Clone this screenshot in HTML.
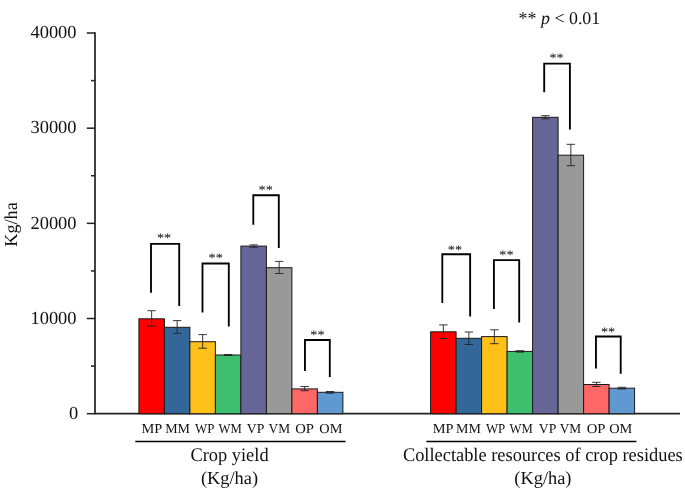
<!DOCTYPE html>
<html><head><meta charset="utf-8"><title>Chart</title>
<style>
html,body{margin:0;padding:0;background:#fff;}
body{width:685px;height:494px;overflow:hidden;font-family:"Liberation Serif",serif;}
svg{display:block;font-family:"Liberation Serif",serif;}
text{fill:#111;text-rendering:geometricPrecision;}
</style></head><body>
<svg style="will-change:transform" width="685" height="494" viewBox="0 0 685 494">
<rect width="685" height="494" fill="#fff"/>
<path d="M95 32.2V413.7H680" stroke="#222" stroke-width="1.7" fill="none"/>
<path d="M86.8 413.70H95" stroke="#222" stroke-width="1.5"/>
<path d="M91 366.11H95" stroke="#222" stroke-width="1.5"/>
<text x="78.1" y="419.35" text-anchor="end" font-size="18.4">0</text>
<path d="M86.8 318.52H95" stroke="#222" stroke-width="1.5"/>
<path d="M91 270.94H95" stroke="#222" stroke-width="1.5"/>
<text x="76.5" y="323.82" text-anchor="end" font-size="18.4">10000</text>
<path d="M86.8 223.35H95" stroke="#222" stroke-width="1.5"/>
<path d="M91 175.76H95" stroke="#222" stroke-width="1.5"/>
<text x="76.5" y="228.65" text-anchor="end" font-size="18.4">20000</text>
<path d="M86.8 128.18H95" stroke="#222" stroke-width="1.5"/>
<path d="M91 80.59H95" stroke="#222" stroke-width="1.5"/>
<text x="76.5" y="133.48" text-anchor="end" font-size="18.4">30000</text>
<path d="M86.8 33.00H95" stroke="#222" stroke-width="1.5"/>
<text x="76.5" y="38.30" text-anchor="end" font-size="18.4">40000</text>
<rect x="138.90" y="318.80" width="25.5" height="94.90" fill="#FF0000" stroke="#1a1a1a" stroke-width="1"/>
<rect x="164.40" y="327.30" width="25.5" height="86.40" fill="#336699" stroke="#1a1a1a" stroke-width="1"/>
<rect x="189.90" y="341.70" width="25.5" height="72.00" fill="#FFC01A" stroke="#1a1a1a" stroke-width="1"/>
<rect x="215.40" y="355.00" width="25.5" height="58.70" fill="#3DBF6E" stroke="#1a1a1a" stroke-width="1"/>
<rect x="240.90" y="246.10" width="25.5" height="167.60" fill="#666699" stroke="#1a1a1a" stroke-width="1"/>
<rect x="266.40" y="267.70" width="25.5" height="146.00" fill="#999999" stroke="#1a1a1a" stroke-width="1"/>
<rect x="291.90" y="388.90" width="25.5" height="24.80" fill="#FF6666" stroke="#1a1a1a" stroke-width="1"/>
<rect x="317.40" y="392.30" width="25.5" height="21.40" fill="#6099D1" stroke="#1a1a1a" stroke-width="1"/>
<path d="M151.65 310.70V326.10M147.45 310.70H155.85M147.45 326.10H155.85" stroke="#222" stroke-width="0.9" fill="none"/>
<path d="M177.15 320.60V333.40M172.95 320.60H181.35M172.95 333.40H181.35" stroke="#222" stroke-width="0.9" fill="none"/>
<path d="M202.65 334.60V348.20M198.45 334.60H206.85M198.45 348.20H206.85" stroke="#222" stroke-width="0.9" fill="none"/>
<path d="M228.15 354.50V355.50M223.95 354.50H232.35M223.95 355.50H232.35" stroke="#222" stroke-width="0.9" fill="none"/>
<path d="M253.65 244.90V247.20M249.45 244.90H257.85M249.45 247.20H257.85" stroke="#222" stroke-width="0.9" fill="none"/>
<path d="M279.15 261.40V273.50M274.95 261.40H283.35M274.95 273.50H283.35" stroke="#222" stroke-width="0.9" fill="none"/>
<path d="M304.65 386.50V390.70M300.45 386.50H308.85M300.45 390.70H308.85" stroke="#222" stroke-width="0.9" fill="none"/>
<path d="M330.15 391.50V393.20M325.95 391.50H334.35M325.95 393.20H334.35" stroke="#222" stroke-width="0.9" fill="none"/>
<rect x="430.60" y="331.80" width="25.5" height="81.90" fill="#FF0000" stroke="#1a1a1a" stroke-width="1"/>
<rect x="456.10" y="338.30" width="25.5" height="75.40" fill="#336699" stroke="#1a1a1a" stroke-width="1"/>
<rect x="481.60" y="336.60" width="25.5" height="77.10" fill="#FFC01A" stroke="#1a1a1a" stroke-width="1"/>
<rect x="507.10" y="351.40" width="25.5" height="62.30" fill="#3DBF6E" stroke="#1a1a1a" stroke-width="1"/>
<rect x="532.60" y="117.30" width="25.5" height="296.40" fill="#666699" stroke="#1a1a1a" stroke-width="1"/>
<rect x="558.10" y="155.20" width="25.5" height="258.50" fill="#999999" stroke="#1a1a1a" stroke-width="1"/>
<rect x="583.60" y="384.50" width="25.5" height="29.20" fill="#FF6666" stroke="#1a1a1a" stroke-width="1"/>
<rect x="609.10" y="388.20" width="25.5" height="25.50" fill="#6099D1" stroke="#1a1a1a" stroke-width="1"/>
<path d="M443.35 324.90V338.50M439.15 324.90H447.55M439.15 338.50H447.55" stroke="#222" stroke-width="0.9" fill="none"/>
<path d="M468.85 332.00V344.50M464.65 332.00H473.05M464.65 344.50H473.05" stroke="#222" stroke-width="0.9" fill="none"/>
<path d="M494.35 329.80V343.70M490.15 329.80H498.55M490.15 343.70H498.55" stroke="#222" stroke-width="0.9" fill="none"/>
<path d="M519.85 350.70V352.10M515.65 350.70H524.05M515.65 352.10H524.05" stroke="#222" stroke-width="0.9" fill="none"/>
<path d="M545.35 115.70V118.90M541.15 115.70H549.55M541.15 118.90H549.55" stroke="#222" stroke-width="0.9" fill="none"/>
<path d="M570.85 144.30V165.70M566.65 144.30H575.05M566.65 165.70H575.05" stroke="#222" stroke-width="0.9" fill="none"/>
<path d="M596.35 382.30V386.50M592.15 382.30H600.55M592.15 386.50H600.55" stroke="#222" stroke-width="0.9" fill="none"/>
<path d="M621.85 387.30V389.00M617.65 387.30H626.05M617.65 389.00H626.05" stroke="#222" stroke-width="0.9" fill="none"/>
<path transform="translate(0,0.45)" d="M151 292.3V243.35H179.2V305.6" stroke="#000" stroke-width="1.85" fill="none" stroke-linejoin="miter"/>
<path transform="translate(0,0.45)" d="M202.5 312V263.05H228.8V326" stroke="#000" stroke-width="1.85" fill="none" stroke-linejoin="miter"/>
<path transform="translate(0,0.45)" d="M253.3 224.3V194.75H278.8V247.5" stroke="#000" stroke-width="1.85" fill="none" stroke-linejoin="miter"/>
<path transform="translate(0,0.45)" d="M304.95 370.5V339.55H329.8V376.6" stroke="#000" stroke-width="1.85" fill="none" stroke-linejoin="miter"/>
<path transform="translate(0,0.45)" d="M442.3 302.5V253.75H470.15V316" stroke="#000" stroke-width="1.85" fill="none" stroke-linejoin="miter"/>
<path transform="translate(0,0.45)" d="M493.9 308.5V259.65H519.2V322.1" stroke="#000" stroke-width="1.85" fill="none" stroke-linejoin="miter"/>
<path transform="translate(0,0.45)" d="M544.2 91.7V63.15H569.9V129" stroke="#000" stroke-width="1.85" fill="none" stroke-linejoin="miter"/>
<path transform="translate(0,0.45)" d="M595.95 368.1V336.05H620.7V373.4" stroke="#000" stroke-width="1.85" fill="none" stroke-linejoin="miter"/>
<text transform="translate(164.1,242.10) scale(1.1,1)" text-anchor="middle" font-size="13" fill="#333">**</text>
<text transform="translate(215.7,261.70) scale(1.1,1)" text-anchor="middle" font-size="13" fill="#333">**</text>
<text transform="translate(265.7,194.30) scale(1.1,1)" text-anchor="middle" font-size="13" fill="#333">**</text>
<text transform="translate(317.5,338.70) scale(1.1,1)" text-anchor="middle" font-size="13" fill="#333">**</text>
<text transform="translate(455.0,253.50) scale(1.1,1)" text-anchor="middle" font-size="13" fill="#333">**</text>
<text transform="translate(506.4,259.20) scale(1.1,1)" text-anchor="middle" font-size="13" fill="#333">**</text>
<text transform="translate(556.6,61.60) scale(1.1,1)" text-anchor="middle" font-size="13" fill="#333">**</text>
<text transform="translate(608.1,335.50) scale(1.1,1)" text-anchor="middle" font-size="13" fill="#333">**</text>
<text transform="translate(141.58,432.8) scale(1.05,1)" font-size="13.7" fill="#111">MP</text>
<text transform="translate(165.19,432.8) scale(1.02,1)" font-size="13.7" fill="#111">MM</text>
<text transform="translate(195.00,432.8) scale(0.945,1)" font-size="13.7" fill="#111">WP</text>
<text transform="translate(218.60,432.8) scale(0.93,1)" font-size="13.7" fill="#111">WM</text>
<text transform="translate(246.80,432.8) scale(1.0,1)" font-size="13.7" fill="#111">VP</text>
<text transform="translate(268.50,432.8) scale(0.975,1)" font-size="13.7" fill="#111">VM</text>
<text transform="translate(295.21,432.8) scale(1.07,1)" font-size="13.7" fill="#111">OP</text>
<text transform="translate(319.33,432.8) scale(1.045,1)" font-size="13.7" fill="#111">OM</text>
<text transform="translate(432.78,432.8) scale(1.05,1)" font-size="13.7" fill="#111">MP</text>
<text transform="translate(456.09,432.8) scale(1.02,1)" font-size="13.7" fill="#111">MM</text>
<text transform="translate(485.90,432.8) scale(0.945,1)" font-size="13.7" fill="#111">WP</text>
<text transform="translate(509.50,432.8) scale(0.93,1)" font-size="13.7" fill="#111">WM</text>
<text transform="translate(538.80,432.8) scale(1.0,1)" font-size="13.7" fill="#111">VP</text>
<text transform="translate(559.70,432.8) scale(0.975,1)" font-size="13.7" fill="#111">VM</text>
<text transform="translate(586.71,432.8) scale(1.07,1)" font-size="13.7" fill="#111">OP</text>
<text transform="translate(609.23,432.8) scale(1.045,1)" font-size="13.7" fill="#111">OM</text>
<path d="M135.3 441.5H345.6M426.4 441.5H636.4" stroke="#000" stroke-width="1.6"/>
<text transform="translate(229.5,461.2) scale(1,1.04)" text-anchor="middle" font-size="18.4">Crop yield</text>
<text x="229.5" y="483.9" text-anchor="middle" font-size="18.4">(Kg/ha)</text>
<text transform="translate(542.8,461.2) scale(1,1.04)" text-anchor="middle" font-size="18.4">Collectable resources of crop residues</text>
<text x="542.9" y="483.9" text-anchor="middle" font-size="18.4">(Kg/ha)</text>
<text x="518.6" y="23.5" font-size="17.9">** <tspan font-style="italic">p</tspan> &lt; 0.01</text>
<text transform="translate(16.7,246.7) rotate(-90)" font-size="18.2">Kg/ha</text>
</svg>
</body></html>
